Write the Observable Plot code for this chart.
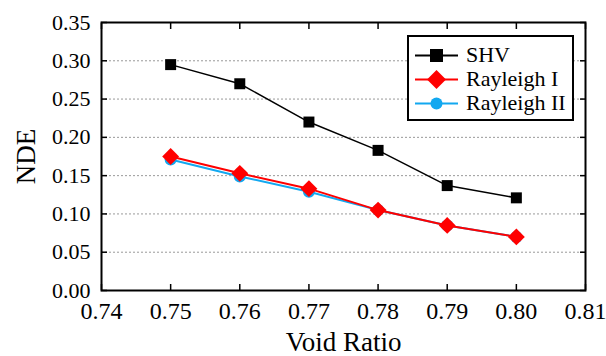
<!DOCTYPE html>
<html><head><meta charset="utf-8">
<script src="https://cdn.jsdelivr.net/npm/d3@7"></script>
<script src="https://cdn.jsdelivr.net/npm/@observablehq/plot@0.6"></script>
<style>
body{margin:0;background:#fff;}
#wrap{position:relative;width:606px;height:356px;font-family:'Times New Roman',serif;}
#wrap svg text{font-family:'Times New Roman',serif !important;}
#legend{position:absolute;left:407px;top:35px;width:167px;height:86px;border:2px solid #000;background:#fff;box-sizing:border-box;}
.row{position:absolute;left:0;height:24px;display:flex;align-items:center;font-size:22px;font-family:'Times New Roman',serif;}
.row svg{margin-left:6px;margin-right:8px;}
</style></head>
<body><div id="wrap"><div id="legend"></div></div>
<script>
const voidRatio = [0.75, 0.76, 0.77, 0.78, 0.79, 0.80];
const shv = [0.295, 0.270, 0.220, 0.183, 0.137, 0.121];
const rayleighI = [0.175, 0.153, 0.133, 0.105, 0.085, 0.070];
const rayleighII = [0.171, 0.149, 0.129, 0.105, 0.085, 0.070];
const seriesNames = ["SHV", "Rayleigh I", "Rayleigh II"];
const xTicks = [0.74, 0.75, 0.76, 0.77, 0.78, 0.79, 0.80, 0.81];
const yTicks = [0, 0.05, 0.10, 0.15, 0.20, 0.25, 0.30, 0.35];

const mk = (vals) => voidRatio.map((x, i) => ({x, y: vals[i]}));
const dShv = mk(shv), dR1 = mk(rayleighI), dR2 = mk(rayleighII);
const blue = "#12a8f0";
const serif = "'Times New Roman', serif";

const chart = Plot.plot({
  width: 606, height: 356,
  marginLeft: 101, marginRight: 21, marginTop: 22, marginBottom: 66,
  style: "font-family:'Times New Roman',serif;font-size:22px;color:#000;background:transparent;",
  x: {domain: [0.74, 0.81], ticks: xTicks, tickFormat: d3.format(".2f")},
  y: {domain: [0, 0.35], ticks: yTicks, tickFormat: d3.format(".2f")},
  marks: [
    Plot.ruleY(yTicks.slice(1, -1), {stroke: "#999", strokeDasharray: "2,2", strokeWidth: 1}),
    Plot.axisX({ticks: xTicks, tickSize: -6, tickPadding: 17, tickFormat: d3.format(".2f"), label: "Void Ratio", labelAnchor: "center", labelArrow: "none", labelOffset: 60, fontSize: 24, fontFamily: serif, strokeWidth: 1.5}),
    Plot.axisX({anchor: "top", ticks: xTicks, tickSize: -6, tickFormat: () => "", label: null, strokeWidth: 1.5}),
    Plot.axisY({ticks: yTicks, tickSize: -6, tickPadding: 17, tickFormat: d3.format(".2f"), label: "NDE", labelAnchor: "center", labelArrow: "none", labelOffset: 86, fontSize: 22, fontFamily: serif, strokeWidth: 1.5}),
    Plot.axisY({anchor: "right", ticks: yTicks, tickSize: -6, tickFormat: () => "", label: null, strokeWidth: 1.5}),
    Plot.frame({stroke: "#000", strokeWidth: 2}),
    Plot.line(dShv, {x: "x", y: "y", stroke: "#000", strokeWidth: 1.5}),
    Plot.dot(dShv, {x: "x", y: "y", symbol: "square", r: 6.2, fill: "#000"}),
    Plot.line(dR2, {x: "x", y: "y", stroke: blue, strokeWidth: 2}),
    Plot.dot(dR2, {x: "x", y: "y", symbol: "circle", r: 6, fill: blue}),
    Plot.line(dR1, {x: "x", y: "y", stroke: "#ff0000", strokeWidth: 2}),
    Plot.dot(dR1, {x: "x", y: "y", symbol: "diamond2", r: 7.6, fill: "#ff0000"})
  ]
});
chart.style.position = "absolute";
chart.style.left = "0px";
chart.style.top = "0px";
const wrap = document.getElementById("wrap");
wrap.insertBefore(chart, wrap.firstChild);

chart.querySelectorAll("[aria-label='x-axis label'] text, [aria-label='y-axis label'] text").forEach(t => t.style.fontSize = "27px");

const legend = document.getElementById("legend");
const legendStyles = [
  {color: "#000", shape: '<rect x="15" y="5" width="13" height="13" fill="#000"/>'},
  {color: "#ff0000", shape: '<path d="M21.5 2 L31 11.5 L21.5 21 L12 11.5 Z" fill="#ff0000"/>'},
  {color: blue, shape: '<circle cx="21.5" cy="11.5" r="6" fill="' + blue + '"/>'}
];
seriesNames.forEach((name, i) => {
  const row = document.createElement("div");
  row.className = "row";
  row.style.top = (6 + i * 24) + "px";
  row.innerHTML = '<svg width="43" height="23"><line x1="0" x2="43" y1="11.5" y2="11.5" stroke="' + legendStyles[i].color + '" stroke-width="2"/>' + legendStyles[i].shape + '</svg><span>' + name + '</span>';
  legend.appendChild(row);
});
</script>
</body></html>
